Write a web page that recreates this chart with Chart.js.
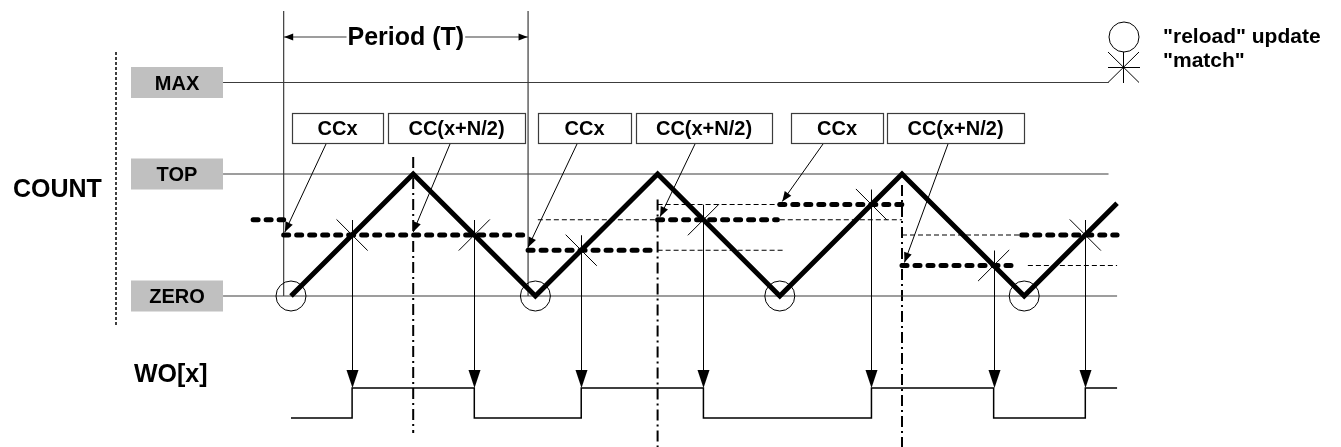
<!DOCTYPE html>
<html><head><meta charset="utf-8">
<script src="https://cdn.jsdelivr.net/npm/chart.js@4.4.1/dist/chart.umd.min.js"></script>
<style>html,body{margin:0;padding:0;background:#fff}#wrap{width:1341px;height:447px;position:relative}</style>
</head><body><div id="wrap"><canvas id="c"></canvas></div>
<script>
// ---------- DATA (time in half-periods, COUNT in % of TOP) ----------
const LEVEL_NAMES  = ['MAX', 'TOP', 'ZERO'];
const LEVEL_VALUES = [175, 100, 0];
const WAVE_T = [0, 1, 2, 3, 4, 5, 6, 6.76];
const WAVE_C = [0, 100, 0, 100, 0, 100, 0, 76];
const RELOAD_T = [0, 2, 4, 6];
const MATCH_T = [0.5, 1.5, 2.375, 3.375, 4.75, 5.75, 6.5];
const MATCH_C = [50, 50, 37.5, 62.5, 75, 25, 50];
const ACTIVE_START = [-0.31, -0.06, 1.94, 3.0, 4.0, 5.0, 5.98];
const ACTIVE_END   = [-0.06, 1.9, 3.0, 3.98, 5.0, 5.94, 6.76];
const ACTIVE_LEVEL = [62.5, 50, 37.5, 62.5, 75, 25, 50];
const BUFFER_START = [2.02, 3.0, 3.0, 4.0, 5.0, 6.03];
const BUFFER_END   = [3.0, 4.03, 4.0, 5.0, 5.98, 6.76];
const BUFFER_LEVEL = [62.5, 37.5, 75, 62.5, 50, 25];
const WO_T = [0, 0.5, 1.5, 2.375, 3.375, 4.75, 5.75, 6.5, 6.76];
const WO_V = [0, 1, 0, 1, 0, 1, 0, 1, 1];
const CC_LABELS = ['CCx', 'CC(x+N/2)', 'CCx', 'CC(x+N/2)', 'CCx', 'CC(x+N/2)'];
const CC_TARGET_T = [-0.05, 1.0, 1.94, 3.02, 4.02, 5.02];
const CC_TARGET_C = [50, 50, 37.5, 62.5, 75, 25];
const PEAK_T = [1, 3, 5];
const PERIOD_T = [-0.06, 1.94];
const PERIOD_LABEL = 'Period (T)';
const AXIS_LABELS = ['COUNT', 'WO[x]'];
const LEGEND_LABELS = ['"reload" update', '"match"'];

// ---------- LAYOUT / STYLE ----------
const PX_T = 122.2, X0 = 291, PX_C = 1.22, Y0 = 296, W = 1341, H = 447;
const LINE_START_T = -0.556;
const LINE_END_T = [6.69, 6.69, 6.76];
const PEAK_TOP_C = [114, 79, 91];
const PEAK_BOT_C = [-112.3, -124, -124];
const PERIOD_TOP_C = 233.6;
const CC_BOX_L = [292, 388, 538, 636, 791, 887];
const CC_BOX_R = [383, 525, 631, 772, 883, 1024];
const CC_ARROW_X = [326, 450, 577, 695, 823, 948];
const LINE_GRAY = '#3c3c3c';
const FONT = s => `bold ${s}px "Liberation Sans", Arial, sans-serif`;

function seg(t0, t1, c) { return [{x: t0, y: c}, {x: t1, y: c}]; }

const datasets = [];
datasets.push({data: WAVE_T.map((t, i) => ({x: t, y: WAVE_C[i]})), showLine: true, borderColor: '#000', borderWidth: 5, pointRadius: 0, borderJoinStyle: 'miter', order: 1});
datasets.push({data: MATCH_T.map((t, i) => ({x: t, y: MATCH_C[i]})), showLine: false, pointStyle: 'crossRot', pointRadius: 22, borderColor: '#000', pointBorderWidth: 1, borderWidth: 1, order: 0});
datasets.push({data: RELOAD_T.map(t => ({x: t, y: 0})), showLine: false, pointStyle: 'circle', pointRadius: 15, borderColor: '#000', pointBorderWidth: 1, borderWidth: 1, backgroundColor: 'rgba(0,0,0,0)', order: 2});
ACTIVE_START.forEach((t, i) => datasets.push({data: seg(t, ACTIVE_END[i], ACTIVE_LEVEL[i]), showLine: true, borderColor: '#000', borderWidth: 5, borderDash: [5, 8], borderCapStyle: 'round', pointRadius: 0, order: 3}));
BUFFER_START.forEach((t, i) => datasets.push({data: seg(t, BUFFER_END[i], BUFFER_LEVEL[i]), showLine: true, borderColor: '#000', borderWidth: 1.2, borderDash: [5, 3], pointRadius: 0, order: 4}));
LEVEL_VALUES.forEach((c, i) => datasets.push({data: seg(LINE_START_T, LINE_END_T[i], c), showLine: true, borderColor: LINE_GRAY, borderWidth: 1.2, pointRadius: 0, order: 5}));
PEAK_T.forEach((t, i) => datasets.push({data: [{x: t, y: PEAK_TOP_C[i]}, {x: t, y: PEAK_BOT_C[i]}], showLine: true, borderColor: '#000', borderWidth: 2, borderDash: [11, 4, 2, 4], pointRadius: 0, order: 5}));
PERIOD_T.forEach(t => datasets.push({data: [{x: t, y: PERIOD_TOP_C}, {x: t, y: 0}], showLine: true, borderColor: LINE_GRAY, borderWidth: 1.2, pointRadius: 0, order: 5}));
datasets.push({data: WO_T.map((t, i) => ({x: t, y: WO_V[i]})), yAxisID: 'wo', showLine: true, stepped: true, borderColor: '#000', borderWidth: 1.5, pointRadius: 0, order: 5});

function head(ctx, x1, y1, x2, y2, len, half) {
  const a = Math.atan2(y2 - y1, x2 - x1), c = Math.cos(a), s = Math.sin(a);
  ctx.beginPath();
  ctx.moveTo(x2, y2);
  ctx.lineTo(x2 - len * c + half * s, y2 - len * s - half * c);
  ctx.lineTo(x2 - len * c - half * s, y2 - len * s + half * c);
  ctx.closePath(); ctx.fill();
}

const annot = {
  id: 'annot',
  afterDatasetsDraw(chart) {
    const ctx = chart.ctx, xs = chart.scales.x, ys = chart.scales.y, ws = chart.scales.wo;
    const X = v => xs.getPixelForValue(v), Y = v => ys.getPixelForValue(v), WY = v => ws.getPixelForValue(v);
    ctx.save();
    ctx.textBaseline = 'alphabetic';
    LEVEL_NAMES.forEach((n, i) => {
      const y = Y(LEVEL_VALUES[i]);
      ctx.fillStyle = '#c0c0c0'; ctx.fillRect(131, y - 15.5, 92, 31);
      ctx.fillStyle = '#000'; ctx.font = FONT(20); ctx.textAlign = 'center';
      ctx.fillText(n, 177, y + 7);
    });
    ctx.font = FONT(25); ctx.textAlign = 'left';
    ctx.fillText(AXIS_LABELS[0], 13, 197);
    ctx.fillText(AXIS_LABELS[1], 134, 382);
    ctx.strokeStyle = '#000'; ctx.lineWidth = 1.5; ctx.setLineDash([3, 2]);
    ctx.beginPath(); ctx.moveTo(116, 52); ctx.lineTo(116, 325); ctx.stroke();
    ctx.setLineDash([]);
    ctx.font = FONT(20); ctx.textAlign = 'center';
    CC_LABELS.forEach((lab, i) => {
      ctx.strokeStyle = LINE_GRAY; ctx.lineWidth = 1.2;
      ctx.strokeRect(CC_BOX_L[i] + 0.5, 113.5, CC_BOX_R[i] - CC_BOX_L[i], 30);
      ctx.fillStyle = '#000';
      ctx.fillText(lab, (CC_BOX_L[i] + CC_BOX_R[i]) / 2, 135);
      const x1 = CC_ARROW_X[i], y1 = 144, x2 = X(CC_TARGET_T[i]), y2 = Y(CC_TARGET_C[i]) - 3;
      ctx.strokeStyle = '#000'; ctx.lineWidth = 1;
      ctx.beginPath(); ctx.moveTo(x1, y1); ctx.lineTo(x2, y2); ctx.stroke();
      head(ctx, x1, y1, x2, y2, 10, 4);
    });
    MATCH_T.forEach((t, i) => {
      const x = Math.round(X(t)) + 0.5, y1 = Y(MATCH_C[i]) - 15, y2 = WY(1);
      ctx.strokeStyle = '#000'; ctx.lineWidth = 1;
      ctx.beginPath(); ctx.moveTo(x, y1); ctx.lineTo(x, y2 - 10); ctx.stroke();
      head(ctx, x, y1, x, y2, 18, 6);
    });
    const pa = X(PERIOD_T[0]), pb = X(PERIOD_T[1]), py = 37;
    ctx.font = FONT(25); ctx.textAlign = 'center';
    const tw = ctx.measureText(PERIOD_LABEL).width, pc = (pa + pb) / 2;
    ctx.fillText(PERIOD_LABEL, pc, 45);
    ctx.strokeStyle = LINE_GRAY; ctx.lineWidth = 1.2; ctx.fillStyle = '#000';
    ctx.beginPath(); ctx.moveTo(pa, py); ctx.lineTo(pc - tw / 2 - 1, py);
    ctx.moveTo(pc + tw / 2 + 1, py); ctx.lineTo(pb, py); ctx.stroke();
    head(ctx, pc, py, pa + 0.5, py, 9, 3.5);
    head(ctx, pc, py, pb - 0.5, py, 9, 3.5);
    ctx.strokeStyle = '#000'; ctx.lineWidth = 1;
    ctx.beginPath(); ctx.arc(1124, 37, 15, 0, Math.PI * 2); ctx.stroke();
    ctx.beginPath();
    ctx.moveTo(1123.5, 52); ctx.lineTo(1123.5, 83);
    ctx.moveTo(1108, 67.5); ctx.lineTo(1140, 67.5);
    ctx.moveTo(1108, 82.5); ctx.lineTo(1139, 52);
    ctx.moveTo(1108, 52); ctx.lineTo(1139, 82.5);
    ctx.stroke();
    ctx.fillStyle = '#000'; ctx.font = FONT(21); ctx.textAlign = 'left';
    ctx.fillText(LEGEND_LABELS[0], 1163, 43);
    ctx.fillText(LEGEND_LABELS[1], 1163, 67);
    ctx.restore();
  }
};

new Chart(document.getElementById('c'), {
  type: 'scatter',
  data: {datasets},
  options: {
    responsive: true, maintainAspectRatio: false, animation: false, events: [],
    layout: {padding: 0, autoPadding: false},
    plugins: {legend: {display: false}, tooltip: {enabled: false}},
    scales: {
      x: {type: 'linear', display: false, bounds: 'data', min: -X0 / PX_T, max: (W - X0) / PX_T},
      y: {type: 'linear', display: false, bounds: 'data', min: -(H - Y0) / PX_C, max: Y0 / PX_C},
      wo: {type: 'linear', display: false, bounds: 'data', position: 'right', min: -(H - 418) / 30, max: 418 / 30}
    }
  },
  plugins: [annot]
});
</script></body></html>
